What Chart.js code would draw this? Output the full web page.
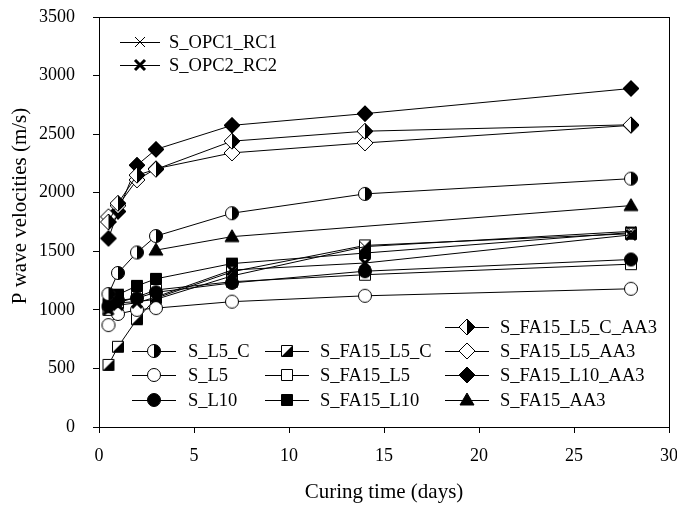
<!DOCTYPE html>
<html>
<head>
<meta charset="utf-8">
<script src="https://cdn.jsdelivr.net/npm/chart.js@4.4.0/dist/chart.umd.min.js"></script>
<style>
  html, body { margin: 0; padding: 0; background: #fff; }
  #grafico { display: block; }
</style>
</head>
<body>
<canvas id="grafico" width="677" height="507"></canvas>
<script>
// curing days
const dias = [0.5, 1, 2, 3, 7, 14, 28];
const diasAA3 = [3, 7, 28];

// P wave velocities (m/s)
const opc1 = [1020, 1060, 1070, 1090, 1290, 1540, 1670];
const opc2 = [1000, 1040, 1060, 1110, 1340, 1400, 1640];
const l5c = [1135, 1315, 1490, 1630, 1825, 1990, 2120];
const l5 = [870, 965, 1000, 1015, 1070, 1120, 1180];
const l10 = [1030, 1080, 1100, 1150, 1230, 1330, 1430];
const fa15L5c = [530, 685, 920, 1100, 1325, 1550, 1650];
const fa15L5 = [1000, 1060, 1110, 1170, 1240, 1300, 1390];
const fa15L10 = [1050, 1130, 1205, 1265, 1395, 1485, 1660];
const fa15L5cAA3 = [1750, 1910, 2150, 2200, 2440, 2525, 2580];
const fa15L5AA3 = [1795, 1890, 2110, 2205, 2340, 2425, 2575];
const fa15L10AA3 = [1610, 1840, 2235, 2370, 2575, 2675, 2890];
const fa15AA3 = [1510, 1625, 1890];

const serif = "'Liberation Serif', 'DejaVu Serif', serif";

function marcador(forma, relleno) {
    const s = 22;
    const c = document.createElement('canvas');
    c.width = s; c.height = s;
    const g = c.getContext('2d');
    const m = s / 2;
    g.strokeStyle = '#000';
    g.lineWidth = 1;

    if (forma === 'x' || forma === 'xb') {
        const d = 5;
        g.lineWidth = forma === 'x' ? 1 : 3;
        g.beginPath();
        g.moveTo(m - d, m - d); g.lineTo(m + d, m + d);
        g.moveTo(m + d, m - d); g.lineTo(m - d, m + d);
        g.stroke();
        return c;
    }

    function camino() {
        g.beginPath();
        if (forma === 'circle') g.arc(m, m, 6.5, 0, Math.PI * 2);
        if (forma === 'square') g.rect(m - 5.5, m - 5.5, 11, 11);
        if (forma === 'diamond') {
            g.moveTo(m, m - 8); g.lineTo(m + 8, m); g.lineTo(m, m + 8); g.lineTo(m - 8, m); g.closePath();
        }
        if (forma === 'triangle') {
            g.moveTo(m, m - 7); g.lineTo(m + 7, m + 5); g.lineTo(m - 7, m + 5); g.closePath();
        }
    }

    camino();
    g.fillStyle = relleno === 'black' ? '#000' : '#fff';
    g.fill();
    if (relleno === 'half') {
        g.save();
        camino();
        g.clip();
        g.beginPath();
        if (forma === 'square') {
            g.moveTo(m - 5.5, m + 5.5); g.lineTo(m + 5.5, m + 5.5); g.lineTo(m + 5.5, m - 5.5); g.closePath();
        } else {
            g.rect(m, 0, m, s);
        }
        g.fillStyle = '#000';
        g.fill();
        g.restore();
    }
    camino();
    g.stroke();
    return c;
}

function serie(label, xs, ys, forma, relleno) {
    return {
        label: label,
        data: xs.map((x, i) => ({ x: x, y: ys[i] })),
        borderColor: '#000',
        borderWidth: 1,
        backgroundColor: '#000',
        pointStyle: marcador(forma, relleno),
        pointRadius: 6,
        tension: 0
    };
}

const datasets = [
    serie('S_OPC1_RC1', dias, opc1, 'x', 'none'),
    serie('S_OPC2_RC2', dias, opc2, 'xb', 'none'),
    serie('S_L5_C', dias, l5c, 'circle', 'half'),
    serie('S_L5', dias, l5, 'circle', 'white'),
    serie('S_L10', dias, l10, 'circle', 'black'),
    serie('S_FA15_L5_C', dias, fa15L5c, 'square', 'half'),
    serie('S_FA15_L5', dias, fa15L5, 'square', 'white'),
    serie('S_FA15_L10', dias, fa15L10, 'square', 'black'),
    serie('S_FA15_L5_C_AA3', dias, fa15L5cAA3, 'diamond', 'half'),
    serie('S_FA15_L5_AA3', dias, fa15L5AA3, 'diamond', 'white'),
    serie('S_FA15_L10_AA3', dias, fa15L10AA3, 'diamond', 'black'),
    serie('S_FA15_AA3', diasAA3, fa15AA3, 'triangle', 'black')
];

// legend layout inside the plot: [line start x, row y, line length, text offset]
const posLeyenda = {
    'S_OPC1_RC1': [120, 42, 40, 49],
    'S_OPC2_RC2': [120, 65, 40, 49],
    'S_FA15_L5_C_AA3': [445, 327, 44, 55],
    'S_L5_C': [132, 351, 44, 56],
    'S_FA15_L5_C': [265, 351, 44, 55],
    'S_FA15_L5_AA3': [445, 351, 44, 55],
    'S_L5': [132, 375, 44, 56],
    'S_FA15_L5': [265, 375, 44, 55],
    'S_FA15_L10_AA3': [445, 375, 44, 55],
    'S_L10': [132, 400, 44, 56],
    'S_FA15_L10': [265, 400, 44, 55],
    'S_FA15_AA3': [445, 400, 44, 55]
};

const pluginMarco = {
    id: 'marco',
    afterDraw(chart) {
        const ctx = chart.ctx;
        const a = chart.chartArea;
        ctx.save();
        ctx.strokeStyle = '#000';
        ctx.lineWidth = 1;
        ctx.strokeRect(Math.round(a.left) + 0.5, Math.round(a.top) + 0.5, Math.round(a.right - a.left), Math.round(a.bottom - a.top));

        // y axis title
        ctx.fillStyle = '#000';
        ctx.font = '21px ' + serif;
        ctx.textAlign = 'center';
        ctx.textBaseline = 'middle';
        ctx.save();
        ctx.translate(20, 206);
        ctx.rotate(-Math.PI / 2);
        ctx.fillText('P wave velocities (m/s)', 0, 0);
        ctx.restore();

        ctx.font = '18.5px ' + serif;
        ctx.textAlign = 'left';
        chart.data.datasets.forEach(ds => {
            const p = posLeyenda[ds.label];
            if (!p) return;
            const x = p[0], y = p[1];
            ctx.beginPath();
            ctx.moveTo(x, y + 0.5);
            ctx.lineTo(x + p[2], y + 0.5);
            ctx.stroke();
            const img = ds.pointStyle;
            ctx.drawImage(img, Math.round(x + p[2] / 2 - img.width / 2), y - img.height / 2);
            ctx.fillText(ds.label, x + p[3], y + 1);
        });
        ctx.restore();
    }
};

const config = {
    type: 'line',
    data: { datasets: datasets },
    options: {
        responsive: false,
        animation: false,
        devicePixelRatio: 1,
        layout: { padding: { top: 17, right: 8, left: 0, bottom: 0 } },
        scales: {
            x: {
                type: 'linear',
                min: 0,
                max: 30,
                afterFit: function(scale) {
                    scale.height = 80;
                    scale.paddingLeft = 0;
                    scale.paddingRight = 0;
                },
                ticks: {
                    stepSize: 5,
                    color: '#000',
                    padding: 12,
                    font: { family: serif, size: 18 }
                },
                grid: { drawOnChartArea: false, drawTicks: true, tickLength: 6, color: '#000' },
                border: { color: '#000', width: 1 },
                title: {
                    display: true,
                    text: 'Curing time (days)',
                    color: '#000',
                    font: { family: serif, size: 21 },
                    padding: { top: 0, bottom: 2 }
                }
            },
            y: {
                min: 0,
                max: 3500,
                afterFit: function(scale) {
                    scale.width = 99;
                    scale.paddingTop = 0;
                    scale.paddingBottom = 0;
                },
                ticks: {
                    stepSize: 500,
                    color: '#000',
                    padding: 18,
                    font: { family: serif, size: 18 },
                    callback: function(value) { return String(value); }
                },
                grid: { drawOnChartArea: false, drawTicks: true, tickLength: 6, color: '#000' },
                border: { color: '#000', width: 1 },
                title: { display: false }
            }
        },
        plugins: {
            legend: { display: false },
            tooltip: { enabled: false }
        }
    },
    plugins: [pluginMarco]
};

const chart = new Chart(document.getElementById('grafico').getContext('2d'), config);
</script>
</body>
</html>
